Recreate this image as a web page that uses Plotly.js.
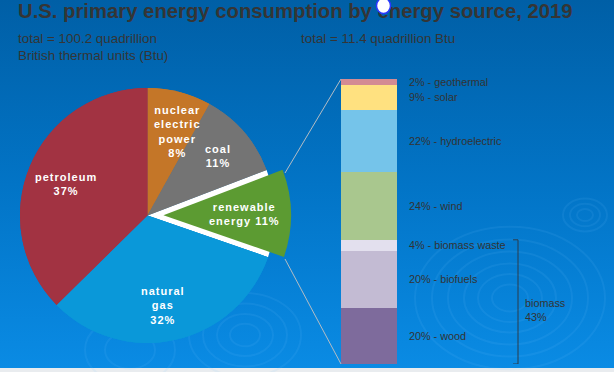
<!DOCTYPE html>
<html>
<head>
<meta charset="utf-8">
<script src="https://cdn.plot.ly/plotly-3.0.1.min.js"></script>
<style>
  html, body { margin: 0; padding: 0; background: #e9ecef; }
  #bg { position: absolute; left: 0; top: 0; width: 614px; height: 368px;
        background: linear-gradient(to bottom, #005fa6 0%, #0274c6 50%, #0a8be4 100%); }
  #chart { position: absolute; left: 0; top: 0; width: 614px; height: 372px; }
  text[style*="Liberation Sans"] { letter-spacing: 1px; }
</style>
</head>
<body>
<div id="bg"></div>
<div id="chart"></div>
<script>
// ---- data ----
const pieLabels = ["nuclear electric power", "coal", "renewable energy", "natural gas", "petroleum"];
const pieValues = [8, 11, 11, 32, 37];
const pieText = ["nuclear<br>electric<br>power<br>8%", "coal<br>11%", "renewable<br>energy 11%", "natural<br>gas<br>32%", "petroleum<br>37%"];
const pieColors = ["#c47628", "#747474", "#5c9b32", "#0a98d9", "#a23342"];

const renewNames = ["wood", "biofuels", "biomass waste", "wind", "hydroelectric", "solar", "geothermal"];
const renewValues = [20, 20, 4, 24, 22, 9, 2];
const renewColors = ["#7e6b9c", "#c3bbd3", "#e3e0ee", "#a9c78e", "#75c4ea", "#ffe180", "#d48b93"];
const biomassLabel = "biomass<br>43%";
const biomassCount = 3;

const titleText = "U.S. primary energy consumption by energy source, 2019";
const leftTotal = "total = 100.2 quadrillion<br>British thermal units (Btu)";
const rightTotal = "total = 11.4 quadrillion Btu";

// ---- layout helpers ----
const W = 614, H = 372;
const px = x => x / W;
const py = y => (H - y) / H;

const cx = 147.5, cy = 215.5, R = 127.5, PULL = 0.125;
const pullArr = pieValues.map((v, i) => (i === 2 ? PULL : 0));

const traces = [];
// underlying unpulled pie: the gap left by the pulled slice shows white
traces.push({
  type: "pie", values: pieValues, labels: pieLabels, sort: false,
  direction: "clockwise", rotation: 0, textinfo: "none", hoverinfo: "skip",
  marker: { colors: pieColors.map((c, i) => (i === 2 ? "#ffffff" : c)), line: { width: 0 } },
  domain: { x: [px(cx - R), px(cx + R)], y: [py(cy + R), py(cy - R)] },
  showlegend: false
});
const D = R * (1 + PULL);
traces.push({
  type: "pie", values: pieValues, labels: pieLabels, sort: false,
  direction: "clockwise", rotation: 0, textinfo: "none", hoverinfo: "label+percent",
  pull: pullArr,
  marker: { colors: pieColors, line: { width: 0 } },
  domain: { x: [px(cx - D), px(cx + D)], y: [py(cy + D), py(cy - D)] },
  showlegend: false
});
renewNames.forEach((n, i) => {
  traces.push({
    type: "bar", x: [0], y: [renewValues[i]], name: n, width: 1,
    marker: { color: renewColors[i], line: { width: 0 } },
    xaxis: "x", yaxis: "y", showlegend: false, hoverinfo: "name+y"
  });
});

const annotations = [];
annotations.push({ text: "<b>" + titleText + "</b>", xref: "paper", yref: "paper",
  x: px(16), y: py(-1.5), xanchor: "left", yanchor: "top", showarrow: false,
  font: { family: "Arial", size: 20.3, color: "#353535" } });
annotations.push({ text: leftTotal, xref: "paper", yref: "paper", x: px(16), y: py(29),
  xanchor: "left", yanchor: "top", showarrow: false, align: "left",
  font: { family: "Arial", size: 13.4, color: "#353535" } });
annotations.push({ text: rightTotal, xref: "paper", yref: "paper", x: px(299), y: py(29),
  xanchor: "left", yanchor: "top", showarrow: false, align: "left",
  font: { family: "Arial", size: 13.4, color: "#353535" } });

// pie slice labels
const pieLabelPos = [[177, 131], [218, 156], [244, 214], [163, 305], [66, 184]];
pieText.forEach((t, i) => {
  annotations.push({ text: "<b>" + t + "</b>", xref: "paper", yref: "paper",
    x: px(pieLabelPos[i][0]), y: py(pieLabelPos[i][1]), xanchor: "center", yanchor: "middle",
    showarrow: false, align: "center",
    font: { family: "Liberation Sans", size: 11, color: "#ffffff" } });
});

// stacked bar labels
let cum = 0;
renewNames.forEach((n, i) => {
  annotations.push({ text: renewValues[i] + "% - " + n, xref: "x", yref: "y",
    x: 0.5, xshift: 10, y: cum + renewValues[i] / 2, xanchor: "left", yanchor: "middle",
    showarrow: false, font: { family: "Arial", size: 10.8, color: "#333333" } });
  cum += renewValues[i];
});
const total = cum;
let biomassTop = 0;
for (let i = 0; i < biomassCount; i++) biomassTop += renewValues[i];

annotations.push({ text: biomassLabel, xref: "paper", yref: "y", x: px(523), y: biomassTop / 2 - 3,
  xanchor: "left", yanchor: "middle", showarrow: false, align: "left",
  font: { family: "Arial", size: 10.8, color: "#333333" } });

const shapes = [];
// ripples in the background
const ripples = [[510, 298, [18, 32, 46, 62, 78, 95]], [585, 215, [8, 15, 22]], [245, 335, [15, 28, 42, 56]], [130, 350, [25, 45]]];
ripples.forEach(r => r[2].forEach(rad => shapes.push({ type: "circle", xref: "paper", yref: "paper",
  x0: px(r[0] - rad), x1: px(r[0] + rad), y0: py(r[1] + rad * 0.75), y1: py(r[1] - rad * 0.75),
  line: { color: "rgba(120,200,255,0.10)", width: 2 }, layer: "below" })));

// connector lines from the pulled slice corners to the bar ends
shapes.push({ type: "line", xref: "paper", yref: "y", x0: px(285), y0: total * (364 - 173) / 285,
  x1: px(341), y1: total, line: { color: "#b4bcc4", width: 1 } });
shapes.push({ type: "line", xref: "paper", yref: "y", x0: px(285), y0: total * (364 - 259) / 285,
  x1: px(341), y1: 0, line: { color: "#b4bcc4", width: 1 } });
// biomass bracket
shapes.push({ type: "path", xref: "paper", yref: "y",
  path: `M ${px(513)},${biomassTop} L ${px(518)},${biomassTop} L ${px(518)},0 L ${px(513)},0`,
  line: { color: "#2a3a4a", width: 1 } });
// small marker circle over the title
shapes.push({ type: "circle", xref: "paper", yref: "paper", x0: px(376.5), x1: px(390.5), y0: py(13.5), y1: py(-2),
  fillcolor: "#ffffff", line: { color: "#2a36ff", width: 1.5 } });

const layout = {
  width: W, height: H, margin: { l: 0, r: 0, t: 0, b: 0 },
  paper_bgcolor: "rgba(0,0,0,0)", plot_bgcolor: "rgba(0,0,0,0)",
  barmode: "stack", bargap: 0, showlegend: false,
  xaxis: { domain: [px(341), px(397)], range: [-0.5, 0.5], visible: false, fixedrange: true },
  yaxis: { domain: [py(364), py(79)], range: [0, total], visible: false, fixedrange: true },
  annotations: annotations, shapes: shapes
};

Plotly.newPlot("chart", traces, layout, { displayModeBar: false, staticPlot: true }).then(gd => {
  // bring the marker circle above the title text
  const paths = gd.querySelectorAll(".layer-above .shapelayer path");
  const circ = paths[paths.length - 1];
  const svgs = gd.querySelectorAll("svg.main-svg");
  if (circ && svgs.length) svgs[svgs.length - 1].appendChild(circ);
});
</script>
</body>
</html>
